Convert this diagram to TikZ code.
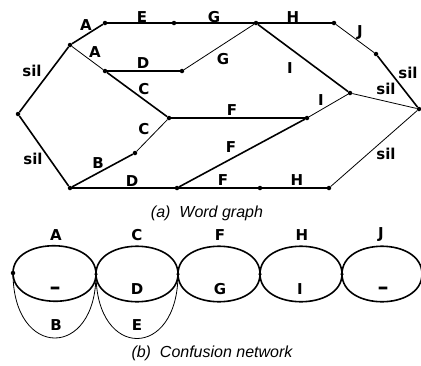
\documentclass[tikz,border=0pt]{standalone}
\usepackage{fontspec}
\setmainfont{DejaVu Sans}
\newfontfamily\lblfont{DejaVu Sans Bold}
\newfontfamily\capfont{Liberation Sans}
\begin{document}
\begin{tikzpicture}[x=1pt,y=-1pt,
  pt/.style={circle,fill=black,inner sep=0pt,minimum size=4.5pt},
  thk/.style={line width=1.6pt},
  thn/.style={line width=0.8pt},
  lbl/.style={font=\lblfont\fontsize{15}{17}\selectfont,inner sep=0pt},
  dashlbl/.style={font=\lblfont\fontsize{22}{22}\selectfont,inner sep=0pt},
  captext/.style={font=\capfont\itshape\fontsize{16}{18}\selectfont,inner sep=0pt}]
\useasboundingbox (0,0) rectangle (421,365);
% word graph nodes
\node[pt] (s) at (18,114) {};
\node[pt] (a1) at (70,45) {};
\node[pt] (a2) at (105,23) {};
\node[pt] (e) at (174,23) {};
\node[pt] (d1) at (105,71) {};
\node[pt] (d2) at (182,71) {};
\node[pt] (c) at (169,118) {};
\node[pt] (b) at (135,153) {};
\node[pt] (bot) at (70,188) {};
\node[pt] (d3) at (177,188) {};
\node[pt] (g) at (256,23) {};
\node[pt] (h) at (334,23) {};
\node[pt] (j) at (376,54) {};
\node[pt] (i) at (350,93) {};
\node[pt] (f) at (307,118) {};
\node[pt] (en) at (419,109) {};
\node[pt] (f2) at (260,188) {};
\node[pt] (h2) at (329,188) {};
% edges
\draw[thk] (s) -- (a1);
\draw[thk] (s) -- (bot);
\draw[thk] (a1) -- (a2);
\draw[thn] (a1) -- (d1);
\draw[thk] (a2) -- (e);
\draw[thk] (e) -- (g);
\draw[thk] (g) -- (h);
\draw[thn] (h) -- (j);
\draw[thk] (j) -- (en);
\draw[thk] (d1) -- (d2);
\draw[thn] (d2) -- (g);
\draw[thk] (d1) -- (c);
\draw[thk] (c) -- (f);
\draw[thn] (f) -- (i);
\draw[thk] (g) -- (i);
\draw[thn] (i) -- (en);
\draw[thn] (b) -- (c);
\draw[thk] (bot) -- (b);
\draw[thk] (bot) -- (d3);
\draw[thk] (d3) -- (f);
\draw[thk] (d3) -- (f2);
\draw[thk] (f2) -- (h2);
\draw[thn] (h2) -- (en);
% labels
\node[lbl] (lA1) at (86,25) {A};
\node[lbl] (lA2) at (95,52) {A};
\node[lbl] (ls1) at (32,71) {sil};
\node[lbl] (ls2) at (33,159) {sil};
\node[lbl] (lE) at (142,17) {E};
\node[lbl] (lD1) at (143,63) {D};
\node[lbl] (lC1) at (144,89) {C};
\node[lbl] (lC2) at (144,129) {C};
\node[lbl] (lB) at (98,163) {B};
\node[lbl] (lD2) at (132,181) {D};
\node[lbl] (lG1) at (214,17) {G};
\node[lbl] (lG2) at (223,59) {G};
\node[lbl] (lH1) at (293,17) {H};
\node[lbl] (lJ) at (360,33) {J};
\node[lbl] (lI1) at (290,68) {I};
\node[lbl] (ls3) at (408,73) {sil};
\node[lbl] (ls4) at (386,89) {sil};
\node[lbl] (lI2) at (321,100) {I};
\node[lbl] (lF1) at (232,110) {F};
\node[lbl] (lF2) at (231,147) {F};
\node[lbl] (lF3) at (223,180) {F};
\node[lbl] (lH2) at (297,180) {H};
\node[lbl] (ls5) at (386,154) {sil};
\node[captext] (capa) at (207,213) {(a)\ \ Word graph};
% confusion network
\coordinate (k0) at (13,273);
\coordinate (k1) at (96,274);
\coordinate (k2) at (178,274);
\coordinate (k3) at (260,274);
\coordinate (k4) at (342,274);
\coordinate (k5) at (422,274);
\foreach \p/\q in {k0/k1,k1/k2,k2/k3,k3/k4,k4/k5}{
  \draw[thk] (\p) .. controls ([yshift=37]\p) and ([yshift=37]\q) .. (\q);
  \draw[thk] (\p) .. controls ([yshift=-37]\p) and ([yshift=-37]\q) .. (\q);
}
\draw[thn] (k0) .. controls ([yshift=-86]k0) and ([yshift=-86]k1) .. (k1);
\draw[thn] (k1) .. controls ([yshift=-86]k1) and ([yshift=-86]k2) .. (k2);
\node[pt] (dk0) at (k0) {};
\node[pt,minimum size=3.5pt] (dk1) at (k1) {};
\node[pt,minimum size=3.5pt] (dk2) at (k2) {};
\node[pt,minimum size=3.5pt] (dk3) at (k3) {};
\node[pt,minimum size=3.5pt] (dk4) at (k4) {};
\node[lbl] (cA) at (56,235) {A};
\node[dashlbl] (cn1) at (55,291) {–};
\node[lbl] (cB) at (56,325) {B};
\node[lbl] (cC) at (137,235) {C};
\node[lbl] (cD) at (137,289) {D};
\node[lbl] (cE) at (137,325) {E};
\node[lbl] (cF) at (220,235) {F};
\node[lbl] (cG) at (220,289) {G};
\node[lbl] (cH) at (302,235) {H};
\node[lbl] (cI) at (300,289) {I};
\node[lbl] (cJ) at (381,235) {J};
\node[dashlbl] (cn2) at (383,291) {–};
\node[captext] (capb) at (212,353) {(b)\ \ Confusion network};
\end{tikzpicture}
\end{document}
